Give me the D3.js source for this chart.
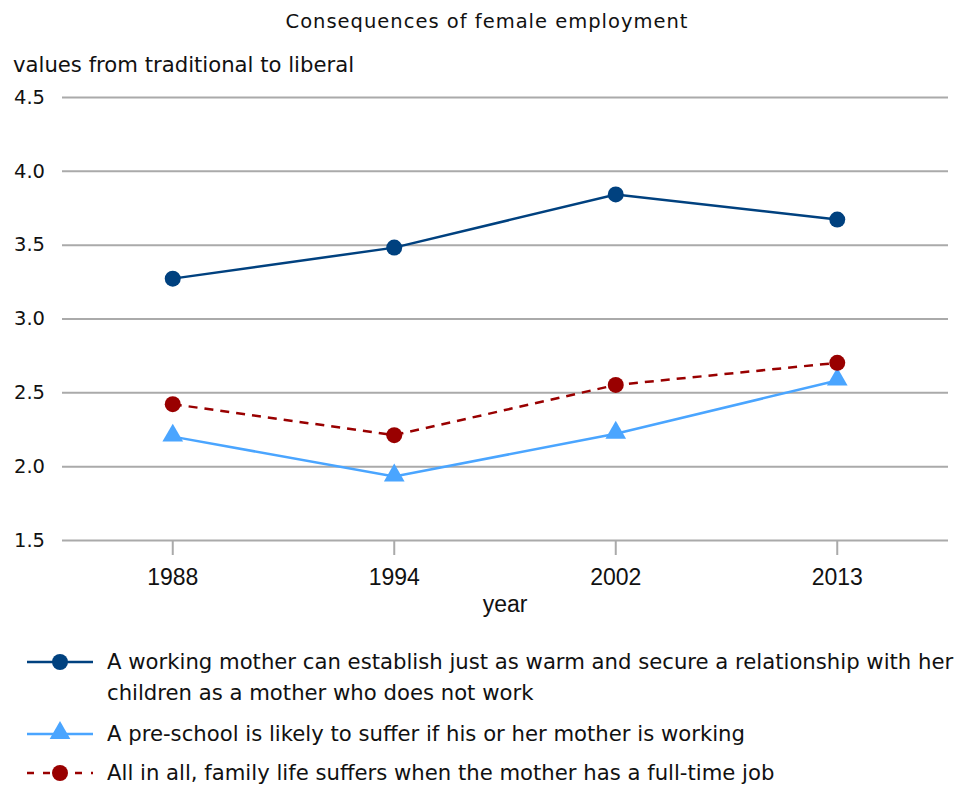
<!DOCTYPE html>
<html><head><meta charset="utf-8">
<script src="https://cdn.jsdelivr.net/npm/d3@7"></script>
<style>body{margin:0;background:#fff}svg{display:block}</style>
</head><body>
<svg id="c" width="963" height="787"></svg>
<script>
const years = ["1988","1994","2002","2013"];
const warmValues = [3.27, 3.48, 3.84, 3.67];
const preschoolValues = [2.20, 1.93, 2.22, 2.58];
const familyValues = [2.42, 2.21, 2.55, 2.70];
const seriesNames = [
  ["A working mother can establish just as warm and secure a relationship with her", "children as a mother who does not work"],
  ["A pre-school is likely to suffer if his or her mother is working"],
  ["All in all, family life suffers when the mother has a full-time job"]
];
const yTicks = [1.5, 2.0, 2.5, 3.0, 3.5, 4.0, 4.5];

const series = [
  {values: warmValues, color: "#00417f", marker: "circle", dash: null, name: seriesNames[0]},
  {values: preschoolValues, color: "#4aa5ff", marker: "triangle", dash: null, name: seriesNames[1]},
  {values: familyValues, color: "#990000", marker: "circle", dash: "9,7", name: seriesNames[2]}
];

const svg = d3.select("#c");
const wide = "'DejaVu Sans', Verdana, sans-serif";
const plain = "'Liberation Sans', Arial, sans-serif";

const x = d3.scaleBand().domain(years).range([62, 948]);
const y = d3.scaleLinear().domain([1.5, 4.5]).range([540, 97]);

// titles
svg.append("text").attr("x", 487).attr("y", 28).attr("text-anchor", "middle")
  .attr("font-family", wide).attr("font-size", 19.5).attr("letter-spacing", 1).attr("fill", "#111")
  .text("Consequences of female employment");
svg.append("text").attr("x", 13).attr("y", 72)
  .attr("font-family", wide).attr("font-size", 21.2).attr("fill", "#111").text("values from traditional to liberal");

// grid / y axis
const yAxis = d3.axisLeft(y).tickValues(yTicks).tickFormat(d3.format(".1f")).tickSize(-(948 - 62)).tickPadding(17);
const gy = svg.append("g").attr("transform", "translate(62,0)").call(yAxis);
gy.select(".domain").remove();
gy.selectAll(".tick line").attr("stroke", "#aaaaaa").attr("stroke-width", 2);
gy.selectAll(".tick text").attr("font-family", wide).attr("font-size", 19.5).attr("fill", "#111");

// x axis
const xAxis = d3.axisBottom(x).tickSize(15).tickPadding(14);
const gx = svg.append("g").attr("transform", "translate(0,540)").call(xAxis);
gx.select(".domain").remove();
gx.selectAll(".tick line").attr("stroke", "#aaaaaa").attr("stroke-width", 2);
gx.selectAll(".tick text").attr("font-family", plain).attr("font-size", 23).attr("fill", "#111");
svg.append("text").attr("x", 505).attr("y", 612).attr("text-anchor", "middle")
  .attr("font-family", plain).attr("font-size", 23).attr("fill", "#111").text("year");

const cx = d => x(d) + x.bandwidth() / 2;
const tri = d3.symbol().type(d3.symbolTriangle).size(185);

function drawMarker(g, s, px, py) {
  if (s.marker === "circle") {
    g.append("circle").attr("cx", px).attr("cy", py).attr("r", 8).attr("fill", s.color);
  } else {
    g.append("path").attr("d", tri).attr("transform", `translate(${px},${py - 1})`).attr("fill", s.color);
  }
}

const line = d3.line().x((d, i) => cx(years[i])).y(d => y(d));
series.forEach(s => {
  const g = svg.append("g");
  g.append("path").attr("d", line(s.values)).attr("fill", "none").attr("stroke", s.color)
    .attr("stroke-width", 2.5).attr("stroke-dasharray", s.dash);
  s.values.forEach((v, i) => drawMarker(g, s, cx(years[i]), y(v)));
});

// legend
const legendRows = [662, 734, 773];
series.forEach((s, i) => {
  const ly = legendRows[i];
  const g = svg.append("g");
  g.append("line").attr("x1", 27).attr("x2", 93).attr("y1", ly).attr("y2", ly)
    .attr("stroke", s.color).attr("stroke-width", 2.5).attr("stroke-dasharray", s.dash ? "7,9" : null);
  drawMarker(g, s, 60, ly);
  s.name.forEach((t, j) => {
    g.append("text").attr("x", 107).attr("y", ly + 7 + j * 31)
      .attr("font-family", wide).attr("font-size", 21.2).attr("fill", "#111").text(t);
  });
});
</script>
</body></html>
